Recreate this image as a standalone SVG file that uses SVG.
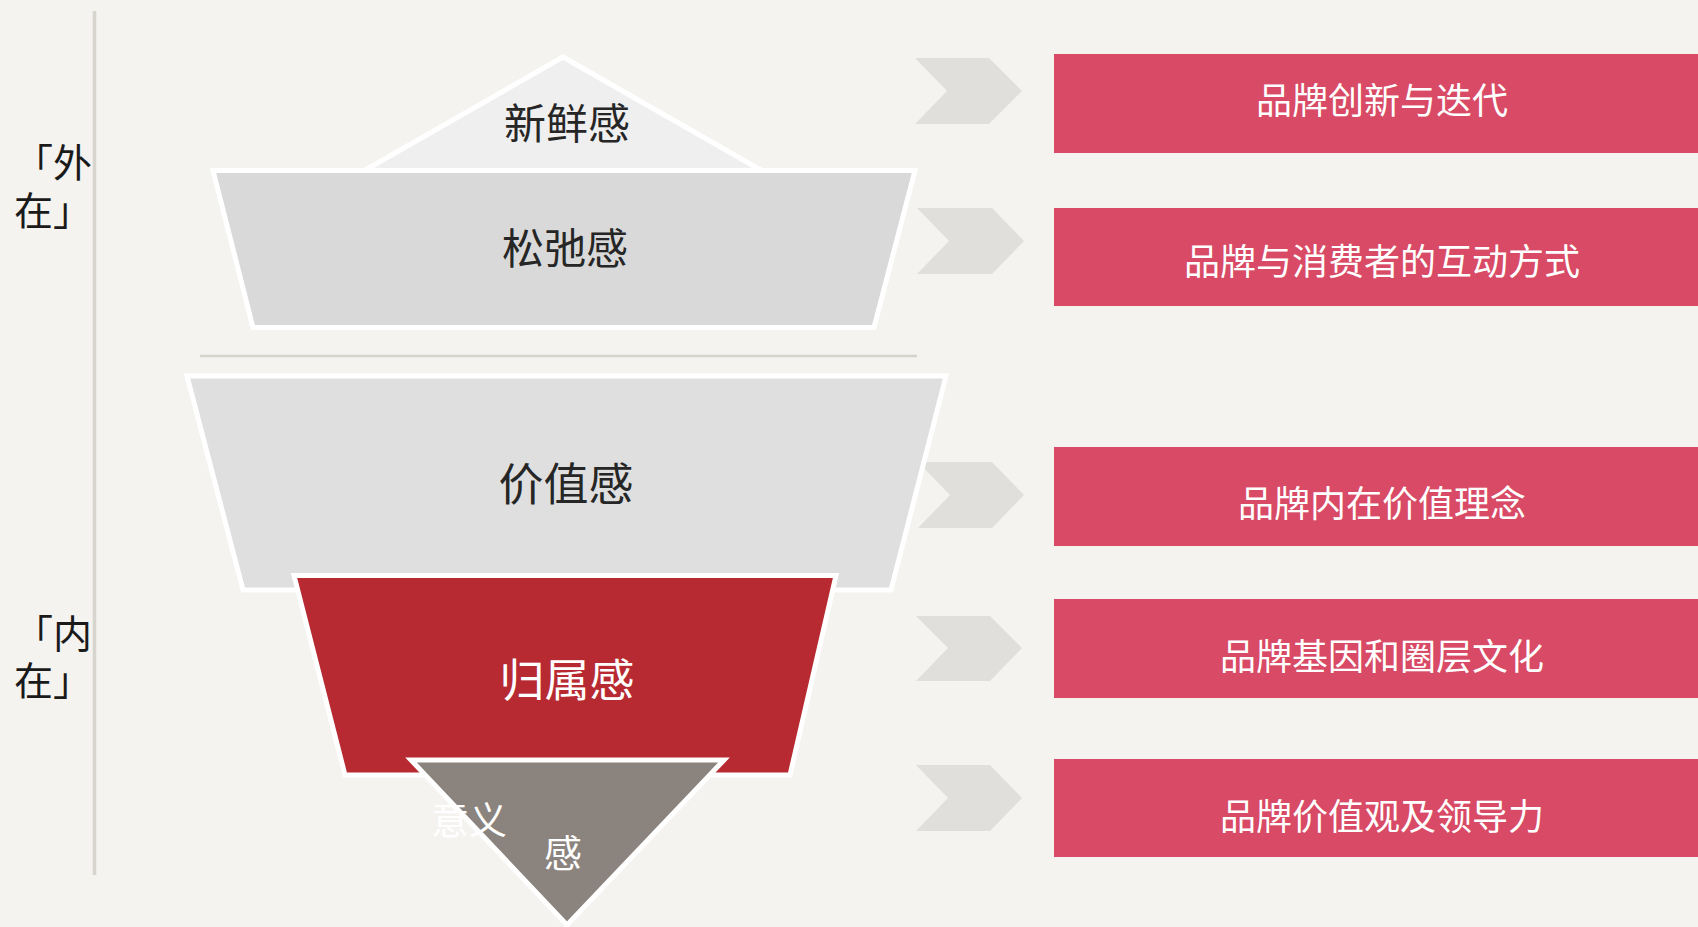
<svg xmlns="http://www.w3.org/2000/svg" width="1698" height="927" viewBox="0 0 1698 927">
<style>
text{font-family:"Noto Sans CJK SC","Noto Sans CJK TC",sans-serif}
.lvl{stroke:#ffffff;stroke-width:5;stroke-linejoin:miter}
.dark{fill:#262626}
.lt{fill:#ffffff}
.chev{fill:#e0dfdc}
.box{fill:#d84a65}
.btxt{fill:#ffffff;font-size:36px;text-anchor:middle}
.side{fill:#1a1a1a;font-size:39px}
</style>
<rect x="0" y="0" width="1698" height="927" fill="#f5f3ef"/>
<line x1="94.5" y1="11" x2="94.5" y2="875" stroke="#d8d4ce" stroke-width="3.5"/>
<g id="label-outer">
<text class="side"><tspan x="14" y="177">「外</tspan><tspan x="14" y="225">在」</tspan></text>
</g>
<g id="label-inner">
<text class="side"><tspan x="14" y="648">「内</tspan><tspan x="14" y="695">在」</tspan></text>
</g>
<line id="separator" x1="200" y1="356" x2="917" y2="356" stroke="#d6d2cc" stroke-width="2.5"/>
<g id="connectors">
<polygon class="chev" points="915,58 989,58 1022,91 989,124 915,124 947,91"/>
<polygon class="chev" points="917,208 992,208 1024,241 992,274 917,274 949,241"/>
<polygon class="chev" points="918,462 992,462 1024,495 992,528 918,528 950,495"/>
<polygon class="chev" points="916,616 990,616 1022,648 990,681 916,681 948,648"/>
<polygon class="chev" points="916,765 990,765 1022,798 990,831 916,831 948,798"/>
</g>
<g id="n-xinxian">
<polygon class="lvl" fill="#efefef" points="563,57 360,173 766,173"/>
<text class="dark" x="567" y="139" font-size="42" text-anchor="middle">新鲜感</text>
</g>
<g id="n-songchi">
<polygon class="lvl" fill="#d9d9d9" points="213,170.5 915,170.5 874,327.5 253,327.5"/>
<text class="dark" x="565" y="264" font-size="42" text-anchor="middle">松弛感</text>
</g>
<g id="n-jiazhi">
<polygon class="lvl" fill="#dfdfdf" points="187,376 946,376 891,590 243,590"/>
<text class="dark" x="566" y="501" font-size="45" text-anchor="middle">价值感</text>
</g>
<g id="n-guishu">
<polygon class="lvl" fill="#b72a32" points="294,575.5 836,575.5 790,775 345,775"/>
<text class="lt" x="567" y="697" font-size="45" text-anchor="middle">归属感</text>
</g>
<g id="n-yiyi">
<polygon class="lvl" fill="#8b847e" points="411,760 724,760 567,925"/>
<text class="lt" font-size="38"><tspan x="431" y="834">意义</tspan><tspan x="544" y="867">感</tspan></text>
</g>
<g id="b1"><rect class="box" x="1054" y="54" width="644" height="99"/><text class="btxt" x="1382" y="114">品牌创新与迭代</text></g>
<g id="b2"><rect class="box" x="1054" y="208" width="644" height="98"/><text class="btxt" x="1382" y="275">品牌与消费者的互动方式</text></g>
<g id="b3"><rect class="box" x="1054" y="447" width="644" height="99"/><text class="btxt" x="1382" y="517">品牌内在价值理念</text></g>
<g id="b4"><rect class="box" x="1054" y="599" width="644" height="99"/><text class="btxt" x="1382" y="670">品牌基因和圈层文化</text></g>
<g id="b5"><rect class="box" x="1054" y="759" width="644" height="98"/><text class="btxt" x="1382" y="830">品牌价值观及领导力</text></g>
</svg>
